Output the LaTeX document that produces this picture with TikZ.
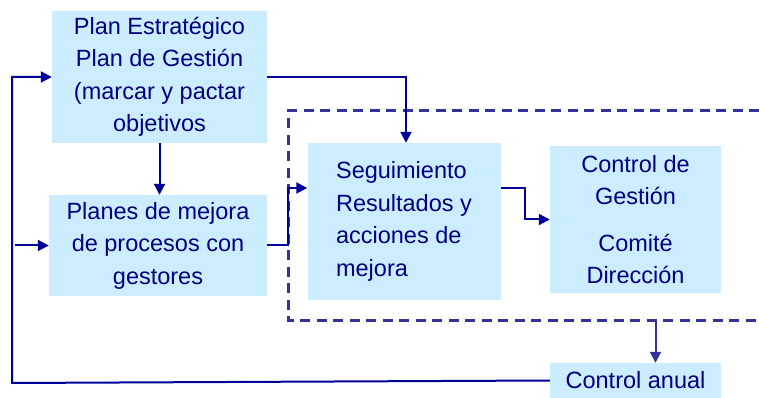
\documentclass[tikz,border=0pt]{standalone}
\usepackage{fontspec}
\setmainfont{Liberation Sans}
\usetikzlibrary{arrows.meta}
\definecolor{boxblue}{HTML}{CCECFF}
\definecolor{linkblue}{HTML}{000099}
\definecolor{frameblue}{HTML}{333399}
\definecolor{textblue}{HTML}{000080}
\begin{document}
\begin{tikzpicture}[x=1pt,y=1pt,
	box/.style={fill=boxblue,text=textblue,inner sep=0pt,align=center,font=\fontsize{23.5}{32.5}\selectfont},
	flow/.style={linkblue,line width=2pt,-{Triangle[length=11pt,width=11pt]}},
	frame/.style={frameblue,line width=3pt,dash pattern=on 10pt off 6.5pt}]
	\useasboundingbox (0,0) rectangle (759,398) ;
	\node[box,minimum width=215pt,minimum height=132pt] (plan) at (159.5,321) {Plan Estratégico\\Plan de Gestión\\(marcar y pactar\\objetivos} ;
	\node[box,minimum width=218pt,minimum height=101pt] (mejora) at (158,152.5) {Planes de mejora\\de procesos con\\gestores} ;
	\node[box,minimum width=193pt,minimum height=157pt,align=left] (seguim) at (404,176.5) {Seguimiento\\Resultados y\\acciones de\\mejora} ;
	\node[box,minimum width=171pt,minimum height=147pt] (control) at (635.5,178.5) {Control de\\Gestión\\[14pt]Comité\\Dirección} ;
	\node[box,minimum width=171pt,minimum height=35pt] (anual) at (635.5,17.5) {Control anual} ;
	\coordinate (loop) at (12,15) ; \coordinate (fnw) at (288,287) ; \coordinate (fsw) at (288,77) ;
	\draw[frame] (759,287) -- (fnw) -- (fsw) -- (759,77) ;
	\draw[flow] (anual.west) -- (loop) |- (plan.west) ;
	\draw[flow] ([xshift=3pt]loop |- mejora.west) -- (mejora.west) ;
	\draw[flow] (plan.east) -| ([xshift=2pt]seguim.north) ;
	\draw[flow] (plan.south) -- (plan.south |- mejora.north) ;
	\draw[flow] (mejora.east) -- (mejora.east -| fnw) |- ([yshift=33.5pt]seguim.west) ;
	\draw[flow] ([yshift=33.5pt]seguim.east) -| ([xshift=-25pt]control.west) -- (control.west) ;
	\draw[flow,frameblue] ([xshift=20pt]anual.north |- fsw) -- ([xshift=20pt]anual.north) ;
\end{tikzpicture}
\end{document}
